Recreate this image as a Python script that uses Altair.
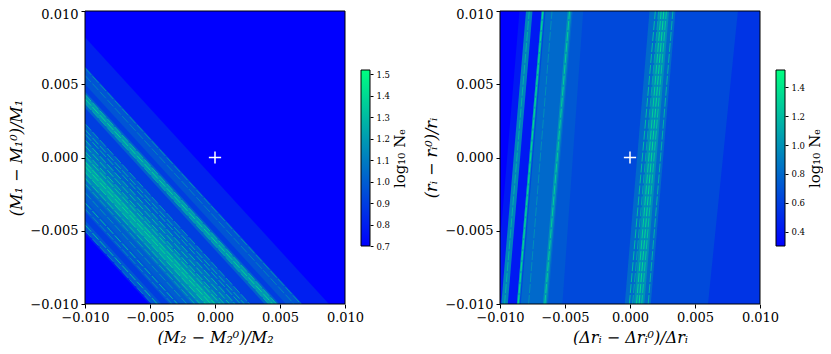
import altair as alt
import pandas as pd

ticks = [-0.01, -0.005, 0.0, 0.005, 0.01]
FONT = "DejaVu Serif"
MATH = "DejaVu Serif"
LABEL = "replace(format(datum.value,'.3f'),'-','\u2212')"

# Left panel: bands as (left-edge y low, left-edge y high, log10 Ne), drawn bottom to top
left_lo = [-.0052,-.0050,.0050,.0034,.0037,-.0029,-.0020,-.0015,-.0010,-.0037,-.0050]
left_hi = [.0082,.0062,.0062,.0045,.0043,.0023,.0012,.0003,-.0002,-.0029,-.0043]
left_v  = [.80,.90,.97,1.02,1.18,1.00,1.06,1.14,1.22,.98,.98]
left_fall = 0.0194  # drop of every band across the panel
# Left panel: thin speckled streaks (left-edge y, log10 Ne)
left_sy = [.0061,.0056,.0043,.0040,.0037,.0023,.0019,.0016,.0012,.0008,.0004,.0001,-.0003,-.0006,-.0010,-.0014,-.0018,-.0024,-.0031,-.0035,-.0046,-.0050]
left_sv = [1.15,1.12,1.30,1.38,1.25,1.20,1.25,1.25,1.30,1.32,1.35,1.35,1.38,1.40,1.38,1.32,1.25,1.18,1.30,1.15,1.30,1.12]

# Right panel: bands as (bottom low, bottom high, top low, top high, log10 Ne)
right_bl = [-.0104,-.0087,-.0087,-.0084,-.0063,-.0067,-.0099,-.0087,-.0004,.0003]
right_bh = [.02,.02,.0060,-.0054,-.0052,-.0064,-.0094,-.0085,.0016,.0011]
right_tl = [-.0085,-.0068,-.0068,-.0065,-.0044,-.0048,-.0080,-.0068,.0015,.0022]
right_th = [.02,.02,.0083,-.0042,-.0036,-.0045,-.0075,-.0066,.0035,.0030]
right_v  = [.42,.55,.65,.80,.72,1.00,.92,1.05,.80,.98]
# Right panel: thin speckled streaks (bottom x, top x, log10 Ne)
right_sb = [-.00965,-.0078,-.0086,-.00655,-.00005,.0002,.0005,.0007,.0009,.0014]
right_st = [-.00775,-.0060,-.0067,-.00465,.00195,.0022,.0024,.0026,.0028,.0033]
right_sv = [1.15,.98,1.35,1.28,1.20,1.10,1.30,1.35,1.25,1.15]

rows_l = []
for i, (a, b, v) in enumerate(zip(left_lo, left_hi, left_v)):
    rows_l.append(dict(k=i, x=-0.01, y=a, y2=b, v=v))
    rows_l.append(dict(k=i, x=0.01, y=a - left_fall, y2=b - left_fall, v=v))
rows_r = []
for i, (a, b, c, d, v) in enumerate(zip(right_bl, right_bh, right_tl, right_th, right_v)):
    rows_r.append(dict(k=i, y=-0.01, x=a, x2=b, v=v))
    rows_r.append(dict(k=i, y=0.01, x=c, x2=d, v=v))
streak_l = []
for i, (a, v) in enumerate(zip(left_sy, left_sv)):
    streak_l.append(dict(k=i, x=-0.01, y=a, v=v))
    streak_l.append(dict(k=i, x=0.01, y=a - left_fall, v=v))
streak_r = []
for i, (a, b, v) in enumerate(zip(right_sb, right_st, right_sv)):
    streak_r.append(dict(k=i, x=a, y=-0.01, v=v))
    streak_r.append(dict(k=i, x=b, y=0.01, v=v))

W, H = 260, 293
dom = alt.Scale(domain=[-0.01, 0.01], nice=False, zero=False)

def axis(title, pad, nudge=False):
    kw = {}
    if nudge:
        kw["labelOffset"] = {"condition": {"test": "datum.value == 0.01", "value": 3}, "value": 0}
    return alt.Axis(values=ticks, labelExpr=LABEL, labelFont=FONT, labelFontSize=13, labelColor="black",
                    title=title, titleFont=MATH, titleFontSize=16, titleFontStyle="italic",
                    titleFontWeight="normal", titleColor="black", titlePadding=pad, grid=False,
                    domain=False, tickColor="black", tickSize=4, labelPadding=3, labelOverlap=False,
                    labelFlush=False, **kw)

def panel(area, streak, xtitle, ytitle):
    bg = alt.Chart(pd.DataFrame({"a": [-0.01], "b": [0.01]})).mark_rect(color="#0000ff").encode(
        x=alt.X("a:Q", scale=dom, axis=axis(xtitle, 5)), x2="b:Q",
        y=alt.Y("a:Q", scale=dom, axis=axis(ytitle, 5, True)), y2="b:Q")
    plus = alt.Chart(pd.DataFrame({"a": [0.0], "b": [0.0]})).mark_point(
        shape="M-1,0L1,0M0,-1L0,1", size=150, stroke="white", strokeWidth=1.5, fill=None, opacity=1
    ).encode(x=alt.X("a:Q", scale=dom), y=alt.Y("b:Q", scale=dom))
    frame = alt.Chart(pd.DataFrame({"a": [-0.01], "b": [0.01]})).mark_rect(
        fill=None, stroke="black", strokeWidth=1).encode(
        x=alt.X("a:Q", scale=dom), x2="b:Q", y=alt.Y("a:Q", scale=dom), y2="b:Q")
    return alt.layer(bg, area, streak, plus, frame).properties(width=W, height=H, view=alt.ViewConfig(stroke=None))

def colourbar(lo, hi, vals, fmt):
    grad = alt.LinearGradient(gradient="linear", x1=0, x2=0, y1=1, y2=0,
                              stops=[alt.GradientStop(color="#0000ff", offset=0),
                                     alt.GradientStop(color="#00ff80", offset=1)])
    yscale = alt.Scale(domain=[lo, hi], range=[235, 59], nice=False, zero=False)
    return alt.Chart(pd.DataFrame({"a": [lo], "b": [hi]})).mark_rect(
        fill=grad, stroke="black", strokeWidth=1).encode(
        y=alt.Y("a:Q", scale=yscale, axis=alt.Axis(
            orient="right", values=vals, format=fmt, labelFont=FONT, labelFontSize=8.5, labelColor="black",
            title="log\u2081\u2080 N\u2091", titleFont=MATH, titleFontSize=15, titleFontWeight="normal",
            titleColor="black", titlePadding=3, titleAngle=270, titleBaseline="top", grid=False, domain=False,
            tickColor="black", tickSize=3, labelPadding=3, labelOverlap=False)),
        y2="b:Q").properties(width=9, height=H, view=alt.ViewConfig(stroke=None))

col_l = alt.Scale(domain=[0.7, 1.52], range=["#0000ff", "#00ff80"], interpolate="rgb")
col_r = alt.Scale(domain=[0.3, 1.52], range=["#0000ff", "#00ff80"], interpolate="rgb")

area_l = alt.Chart(pd.DataFrame(rows_l)).mark_area(clip=True, interpolate="linear").encode(
    x=alt.X("x:Q", scale=dom), y=alt.Y("y:Q", scale=dom, stack=None), y2="y2:Q",
    detail="k:N", color=alt.Color("v:Q", scale=col_l, legend=None))
area_r = alt.Chart(pd.DataFrame(rows_r)).mark_area(clip=True, orient="horizontal", interpolate="linear").encode(
    y=alt.Y("y:Q", scale=dom), x=alt.X("x:Q", scale=dom, stack=None), x2="x2:Q",
    detail="k:N", color=alt.Color("v:Q", scale=col_r, legend=None))
line_l = alt.Chart(pd.DataFrame(streak_l)).mark_line(clip=True, strokeWidth=1, strokeDash=[9, 2]).encode(
    x=alt.X("x:Q", scale=dom), y=alt.Y("y:Q", scale=dom), detail="k:N",
    color=alt.Color("v:Q", scale=col_l, legend=None))
line_r = alt.Chart(pd.DataFrame(streak_r)).mark_line(clip=True, strokeWidth=1, strokeDash=[9, 2], orient="vertical").encode(
    x=alt.X("x:Q", scale=dom), y=alt.Y("y:Q", scale=dom), detail="k:N",
    color=alt.Color("v:Q", scale=col_r, legend=None))

p1 = panel(area_l, line_l, "(M\u2082 \u2212 M\u2082\u2070)/M\u2082", "(M\u2081 \u2212 M\u2081\u2070)/M\u2081")
p2 = panel(area_r, line_r, "(\u0394r\u1d62 \u2212 \u0394r\u1d62\u2070)/\u0394r\u1d62", "(r\u1d62 \u2212 r\u1d62\u2070)/r\u1d62")
c1 = colourbar(0.7, 1.52, [0.7, 0.8, 0.9, 1.0, 1.1, 1.2, 1.3, 1.4, 1.5], ".1f")
c2 = colourbar(0.3, 1.52, [0.4, 0.6, 0.8, 1.0, 1.2, 1.4], ".1f")
spacer = alt.Chart(pd.DataFrame({"a": [0]})).mark_point(opacity=0).encode(
    x=alt.value(0), y=alt.value(0)).properties(width=98, height=H, view=alt.ViewConfig(stroke=None))

chart = alt.hconcat(p1, c1, spacer, p2, c2, spacing=16, bounds="flush").resolve_scale(
    color="independent", x="independent", y="independent"
).properties(
    background="white",
    padding={"left": 0, "top": 0, "right": 0, "bottom": 0},
)
chart.save("out.html", embed_options={"renderer": "svg", "actions": False})
